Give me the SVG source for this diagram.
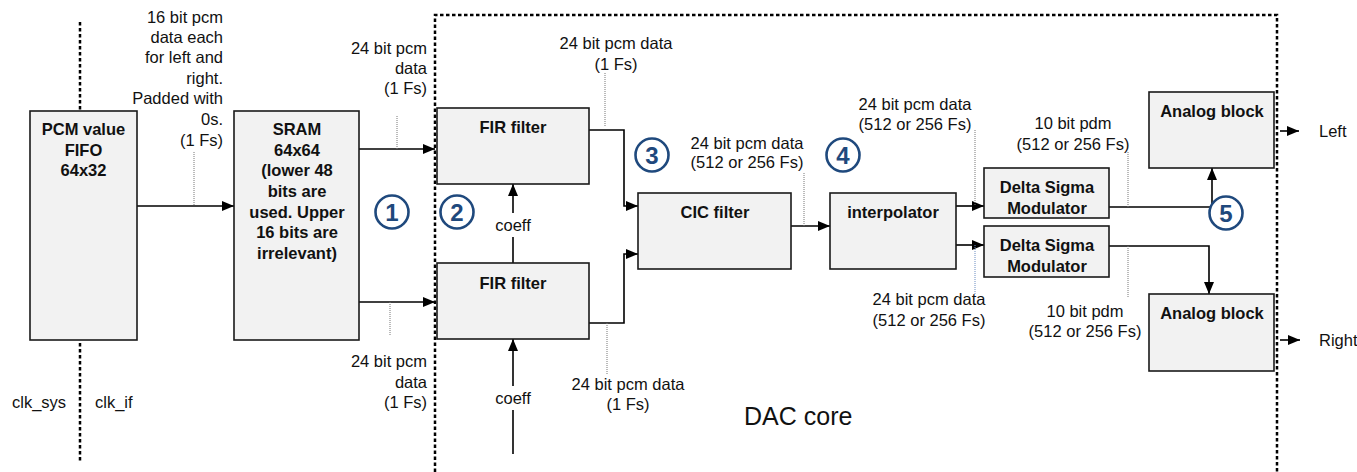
<svg xmlns="http://www.w3.org/2000/svg" width="1357" height="472" viewBox="0 0 1357 472">
<style>
.box{fill:#F2F2F2;stroke:#1a1a1a;stroke-width:1.6}
.bt{font-family:"Liberation Sans",Arial,sans-serif;font-size:16.5px;font-weight:bold;fill:#111;text-anchor:middle}
.lb{font-family:"Liberation Sans",Arial,sans-serif;font-size:16.5px;fill:#111}
.mid{text-anchor:middle}
.end{text-anchor:end}
.ln{fill:none;stroke:#000;stroke-width:1.6}
.arr{marker-end:url(#ah)}
.tick{fill:none;stroke:#777;stroke-width:1;stroke-dasharray:1 1}
.dot{fill:none;stroke:#000;stroke-width:2.5;stroke-dasharray:3.5 2.5}
.cir{fill:#fff;stroke:#1F497D;stroke-width:2.6}
.num{font-family:"Liberation Sans",Arial,sans-serif;font-size:24px;font-weight:bold;fill:#1F497D;text-anchor:middle}
</style>
<defs>
<marker id="ah" markerWidth="12" markerHeight="10" refX="12" refY="5" orient="auto" markerUnits="userSpaceOnUse">
<path d="M0,0 L12,5 L0,10 Z" fill="#000"/>
</marker>
</defs>
<rect width="1357" height="472" fill="#fff"/>

<g id="boundaries">
<path class="dot" d="M80,22 V111 M80,343 V462"/>
<path class="dot" d="M435,472 V15 H1277 V472"/>
<text class="lb" x="12" y="408">clk_sys</text>
<text class="lb" x="95" y="408">clk_if</text>
<text class="lb" x="744" y="425" style="font-size:25px">DAC core</text>
</g>

<g id="connectors">
<path class="ln arr" d="M137,206 H234"/>
<path class="tick" d="M194,152 V206"/>
<path class="ln arr" d="M359,149 H435"/>
<path class="tick" d="M397,116 V149"/>
<path class="ln arr" d="M359,302 H435"/>
<path class="tick" d="M390,302 V335"/>
<path class="ln" d="M513,263 V237"/>
<path class="ln arr" d="M513,213 V184"/>
<path class="ln" d="M513,454 V410"/>
<path class="ln arr" d="M513,386 V339"/>
<path class="ln arr" d="M589,130 H624 V206 H638"/>
<path class="tick" d="M605,73 V126"/>
<path class="ln arr" d="M589,323 H624 V254 H638"/>
<path class="tick" d="M607,323 V375"/>
<path class="ln arr" d="M791,226 H830"/>
<path class="tick" d="M804,173 V226"/>
<path class="ln arr" d="M956,206 H984"/>
<path class="tick" d="M975,130 V206"/>
<path class="ln arr" d="M956,245 H984"/>
<path class="tick" d="M975,245 V295" style="stroke:#6a8cc0"/>
<path class="ln" d="M1109,207 H1212"/>
<path class="ln arr" d="M1212,207 V168"/>
<path class="tick" d="M1128,152 V207"/>
<path class="ln arr" d="M1109,246 H1209 V294"/>
<path class="tick" d="M1128,246 V297"/>
<path class="ln arr" d="M1280,131 H1299"/>
<path class="ln arr" d="M1280,340 H1300"/>
</g>

<g id="labels">
<text class="lb end"><tspan x="223" y="23">16 bit pcm</tspan><tspan x="223" y="43">data each</tspan><tspan x="223" y="63">for left and</tspan><tspan x="223" y="84">right.</tspan><tspan x="223" y="104">Padded with</tspan><tspan x="223" y="125">0s.</tspan><tspan x="223" y="146">(1 Fs)</tspan></text>
<text class="lb end"><tspan x="427" y="54">24 bit pcm</tspan><tspan x="427" y="74">data</tspan><tspan x="427" y="94">(1 Fs)</tspan></text>
<text class="lb end"><tspan x="427" y="367">24 bit pcm</tspan><tspan x="427" y="388">data</tspan><tspan x="427" y="408">(1 Fs)</tspan></text>
<text class="lb mid"><tspan x="616" y="49">24 bit pcm data</tspan><tspan x="616" y="70">(1 Fs)</tspan></text>
<text class="lb mid"><tspan x="628" y="390">24 bit pcm data</tspan><tspan x="628" y="410">(1 Fs)</tspan></text>
<text class="lb mid"><tspan x="747" y="149">24 bit pcm data</tspan><tspan x="747" y="168">(512 or 256 Fs)</tspan></text>
<text class="lb mid"><tspan x="915" y="110">24 bit pcm data</tspan><tspan x="915" y="130">(512 or 256 Fs)</tspan></text>
<text class="lb mid"><tspan x="929" y="305">24 bit pcm data</tspan><tspan x="929" y="326">(512 or 256 Fs)</tspan></text>
<text class="lb mid"><tspan x="1073" y="129">10 bit pdm</tspan><tspan x="1073" y="150">(512 or 256 Fs)</tspan></text>
<text class="lb mid"><tspan x="1085" y="317">10 bit pdm</tspan><tspan x="1085" y="337">(512 or 256 Fs)</tspan></text>
<text class="lb mid" x="513" y="231">coeff</text>
<text class="lb mid" x="513" y="404">coeff</text>
<text class="lb" x="1319" y="137">Left</text>
<text class="lb" x="1319" y="346">Right</text>
</g>

<g id="fifo">
<rect class="box" x="30" y="111" width="107" height="229"/>
<text class="bt"><tspan x="83.5" y="135">PCM value</tspan><tspan x="83.5" y="156">FIFO</tspan><tspan x="83.5" y="176">64x32</tspan></text>
</g>
<g id="sram">
<rect class="box" x="234" y="111" width="125" height="229"/>
<text class="bt"><tspan x="297" y="135">SRAM</tspan><tspan x="297" y="156">64x64</tspan><tspan x="297" y="176">(lower 48</tspan><tspan x="297" y="197">bits are</tspan><tspan x="297" y="218">used. Upper</tspan><tspan x="297" y="238">16 bits are</tspan><tspan x="297" y="259">irrelevant)</tspan></text>
</g>
<g id="fir1">
<rect class="box" x="437" y="108" width="152" height="76"/>
<text class="bt" x="513" y="133">FIR filter</text>
</g>
<g id="fir2">
<rect class="box" x="437" y="263" width="152" height="76"/>
<text class="bt" x="513" y="289">FIR filter</text>
</g>
<g id="cic">
<rect class="box" x="638" y="193" width="153" height="76"/>
<text class="bt" x="715" y="218">CIC filter</text>
</g>
<g id="interp">
<rect class="box" x="830" y="193" width="126" height="76"/>
<text class="bt" x="893" y="218">interpolator</text>
</g>
<g id="dsm1">
<rect class="box" x="984" y="168" width="125" height="50"/>
<text class="bt"><tspan x="1047" y="193">Delta Sigma</tspan><tspan x="1047" y="214">Modulator</tspan></text>
</g>
<g id="dsm2">
<rect class="box" x="984" y="226" width="125" height="51"/>
<text class="bt"><tspan x="1047" y="251">Delta Sigma</tspan><tspan x="1047" y="272">Modulator</tspan></text>
</g>
<g id="analog1">
<rect class="box" x="1149" y="92" width="125" height="76"/>
<text class="bt" x="1212" y="117">Analog block</text>
</g>
<g id="analog2">
<rect class="box" x="1149" y="294" width="125" height="77"/>
<text class="bt" x="1212" y="319">Analog block</text>
</g>

<g id="markers">
<g id="m1"><circle class="cir" cx="392" cy="212" r="16.5"/><text class="num" x="392" y="220.5">1</text></g>
<g id="m2"><circle class="cir" cx="457" cy="212" r="16.5"/><text class="num" x="457" y="220.5">2</text></g>
<g id="m3"><circle class="cir" cx="652" cy="155" r="16.5"/><text class="num" x="652" y="163.5">3</text></g>
<g id="m4"><circle class="cir" cx="843" cy="155" r="16.5"/><text class="num" x="843" y="163.5">4</text></g>
<g id="m5"><circle class="cir" cx="1226" cy="213" r="16.5"/><text class="num" x="1226" y="221.5">5</text></g>
</g>
</svg>
